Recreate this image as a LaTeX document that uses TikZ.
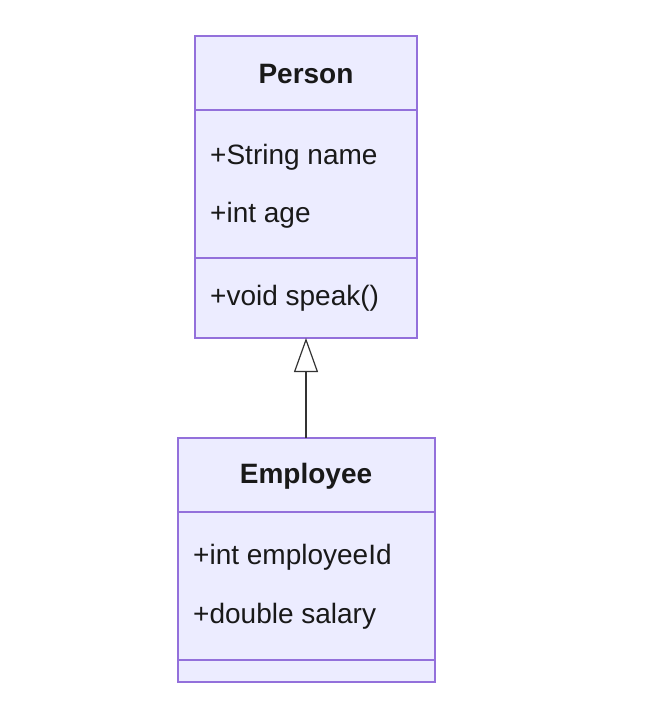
\documentclass[tikz,border=0pt]{standalone}
\usepackage{fontspec}
\setmainfont{Liberation Sans}
\usetikzlibrary{arrows.meta}
\begin{document}
\begin{tikzpicture}[x=1pt,y=-1pt,
  box/.style={draw=violet!70!blue!60, fill=blue!8, line width=1.2pt},
  txt/.style={font=\fontsize{28}{32}\selectfont, text=black!90, inner sep=0pt},
  ttl/.style={txt, font=\fontsize{28}{32}\selectfont\bfseries}]
\useasboundingbox (0,0) rectangle (664,722);
\definecolor{bx}{HTML}{9370DB}
\definecolor{bf}{HTML}{ECECFF}
\tikzset{box/.style={draw=bx, fill=bf, line width=1.2pt}}
\draw[box] (195,36) rectangle (417,338);
\draw[bx,line width=1.2pt] (195,110) -- (417,110) (195,258) -- (417,258);
\node[ttl] (pt) at (306,74) {Person};
\node[txt,anchor=west] (p1) at (210,157) {+String name};
\node[txt,anchor=west] (p2) at (210,215) {+int age};
\node[txt,anchor=west] (p3) at (210,298) {+void speak()};
\coordinate (pb) at (306,338);
\draw[box] (178,438) rectangle (435,682);
\draw[bx,line width=1.2pt] (178,512) -- (435,512) (178,660) -- (435,660);
\node[ttl] (et) at (306,476) {Employee};
\node[txt,anchor=west] (e1) at (193,557) {+int employeeId};
\node[txt,anchor=west] (e2) at (193,616) {+double salary};
\coordinate (et0) at (306,438);
\draw[line width=1.2pt, draw=black!80, -{Triangle[open,length=34pt,width=24pt]}] (et0) -- (pb);
\end{tikzpicture}
\end{document}
